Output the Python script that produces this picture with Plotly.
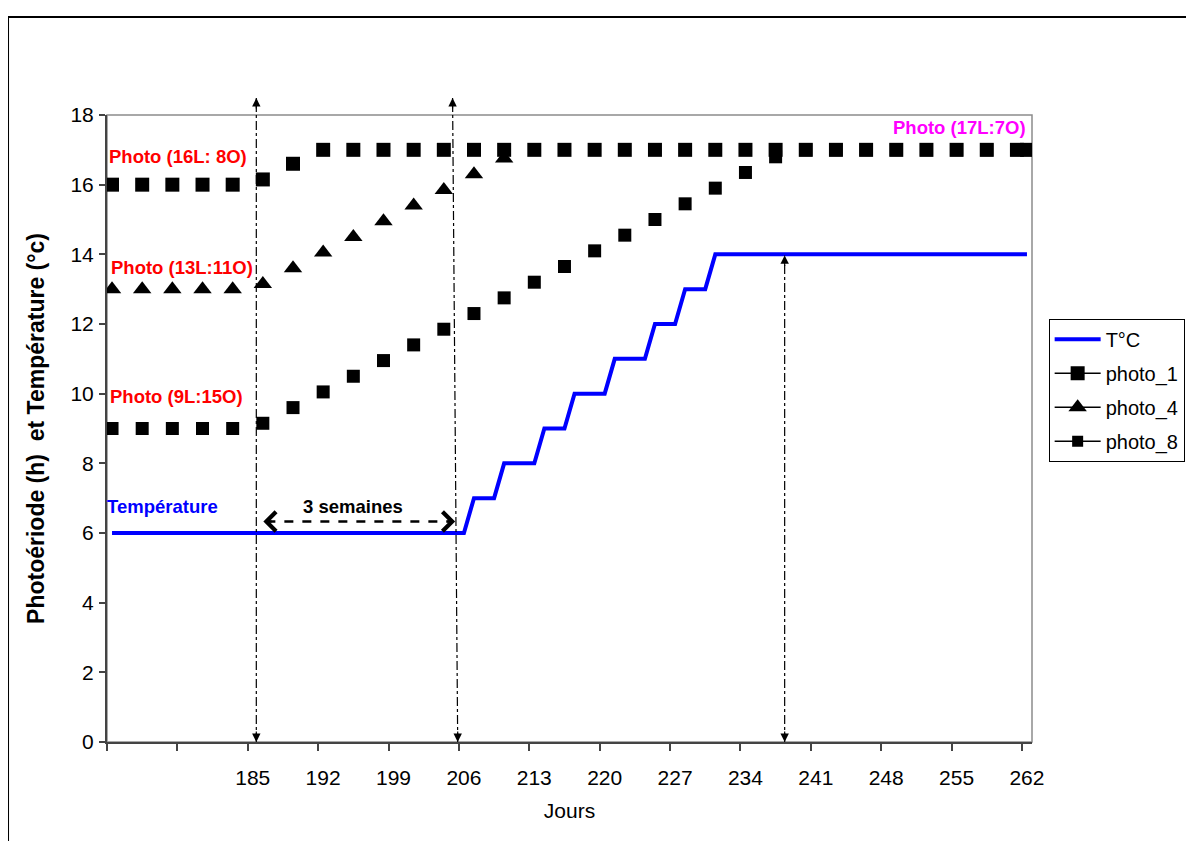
import plotly.graph_objects as go

# ---------------- data ----------------
days_photo = [171, 174, 177, 180, 183, 186, 189, 192, 195, 198, 201, 204, 207, 210, 213, 216,
              219, 222, 225, 228, 231, 234, 237, 240, 243, 246, 249, 252, 255, 258, 261, 262]
photo_1 = [16, 16, 16, 16, 16, 16.15, 16.6, 17, 17, 17, 17, 17, 17, 17, 17, 17,
           17, 17, 17, 17, 17, 17, 17, 17, 17, 17, 17, 17, 17, 17, 17, 17]
# triangles are no longer visible once they reach 17 (hidden behind photo_1)
photo_4 = [13, 13, 13, 13, 13, 13.15, 13.6, 14.05, 14.5, 14.95, 15.4, 15.85, 16.3, 16.75, None, None,
           None, None, None, None, None, None, None, None, None, None, None, None, None, None, None, None]
photo_8 = [9, 9, 9, 9, 9, 9.15, 9.6, 10.05, 10.5, 10.95, 11.4, 11.85, 12.3, 12.75, 13.2, 13.65,
           14.1, 14.55, 15.0, 15.45, 15.9, 16.35, 16.8, 17, 17, 17, 17, 17, 17, 17, 17, 17]

days_temp = [171, 206, 207, 209, 210, 213, 214, 216, 217, 220, 221, 224, 225, 227, 228, 230, 231, 262]
temp = [6, 6, 7, 7, 8, 8, 9, 9, 10, 10, 11, 11, 12, 12, 13, 13, 14, 14]

tick_days = [171, 178, 185, 192, 199, 206, 213, 220, 227, 234, 241, 248, 255, 262]
tick_text = ["", "", "185", "192", "199", "206", "213", "220", "227", "234", "241", "248", "255", "262"]

# annotation texts (label, x day, y value, colour)
labels = [
    ("Photo (16L: 8O)", 177.6, 16.82, "#FF0000"),
    ("Photo (13L:11O)", 178.0, 13.62, "#FF0000"),
    ("Photo (9L:15O)", 177.4, 9.92, "#FF0000"),
    ("Température", 176.0, 6.75, "#0000FF"),
    ("Photo (17L:7O)", 255.3, 17.63, "#FF00FF"),
    ("3 semaines", 195.0, 6.77, "#000000"),
]

# reference arrows (day positions, y in paper units)
v_lines = [  # x_bottom, y_bottom, x_top, y_top
    (185.35, 0.0, 185.35, 1.027),
    (205.38, 0.0, 204.87, 1.027),
    (237.9, 0.0, 237.9, 0.776),
]
span_arrow = (186.05, 205.13, 6.33)

FONT = "Liberation Sans, Arial, sans-serif"

fig = go.Figure()

fig.add_trace(go.Scatter(x=days_temp, y=temp, mode="lines", name="T°C",
                         line=dict(color="#0000FF", width=4), showlegend=False))
fig.add_trace(go.Scatter(x=days_photo, y=photo_8, mode="markers", name="photo_8",
                         marker=dict(symbol="square", size=13, color="black"), showlegend=False))
fig.add_trace(go.Scatter(x=days_photo, y=photo_4, mode="markers", name="photo_4",
                         marker=dict(symbol="triangle-up", size=16, color="black"), showlegend=False))
fig.add_trace(go.Scatter(x=days_photo, y=photo_1, mode="markers", name="photo_1",
                         marker=dict(symbol="square", size=14, color="black"), showlegend=False))

# legend-only entries
fig.add_trace(go.Scatter(x=[None], y=[None], mode="lines", name="T°C", legendgroup="a",
                         line=dict(color="#0000FF", width=4)))
fig.add_trace(go.Scatter(x=[None], y=[None], mode="lines+markers", name="photo_1", legendgroup="b",
                         line=dict(color="black", width=1.5),
                         marker=dict(symbol="square", size=14, color="black")))
fig.add_trace(go.Scatter(x=[None], y=[None], mode="lines+markers", name="photo_4", legendgroup="c",
                         line=dict(color="black", width=1.5),
                         marker=dict(symbol="triangle-up", size=16, color="black")))
fig.add_trace(go.Scatter(x=[None], y=[None], mode="lines+markers", name="photo_8", legendgroup="d",
                         line=dict(color="black", width=1.5),
                         marker=dict(symbol="square", size=11, color="black")))

shapes = []
annotations = []

# plot frame (grey) and outer chart border
shapes.append(dict(type="rect", xref="paper", yref="paper", x0=0, y0=0, x1=1, y1=1,
                   line=dict(color="#8c8c8c", width=1.5), layer="below"))
shapes.append(dict(type="rect", xref="paper", yref="paper", x0=-0.107, y0=-0.17, x1=1.18, y1=1.1563,
                   line=dict(color="black", width=2), layer="below"))

for xb, yb, xt, yt in v_lines:
    shapes.append(dict(type="line", xref="x", yref="paper", x0=xb, y0=yb, x1=xt, y1=yt,
                       line=dict(color="black", width=1.2, dash="dashdot"), layer="above"))
    annotations.append(dict(x=xt, y=yt, xref="x", yref="paper", text="", showarrow=True,
                            ax=0, ay=12, arrowhead=2, arrowsize=1.4, arrowwidth=1.2,
                            arrowcolor="black"))
    annotations.append(dict(x=xb, y=yb, xref="x", yref="paper", text="", showarrow=True,
                            ax=0, ay=-12, arrowhead=2, arrowsize=1.4, arrowwidth=1.2,
                            arrowcolor="black"))

x_l, x_r, y_a = span_arrow
shapes.append(dict(type="line", xref="x", yref="y", x0=x_l + 0.3, y0=y_a, x1=x_r - 0.3, y1=y_a,
                   line=dict(color="black", width=2.5, dash="dash"), layer="above"))
annotations.append(dict(x=x_l, y=y_a, xref="x", yref="y", text="", showarrow=True,
                        ax=10, ay=0, arrowhead=4, arrowsize=1.7, arrowwidth=2.2, arrowcolor="black"))
annotations.append(dict(x=x_r, y=y_a, xref="x", yref="y", text="", showarrow=True,
                        ax=-10, ay=0, arrowhead=4, arrowsize=1.7, arrowwidth=2.2, arrowcolor="black"))

for txt, xd, yv, col in labels:
    annotations.append(dict(x=xd, y=yv, xref="x", yref="y", text=f"<b>{txt}</b>", showarrow=False,
                            font=dict(family=FONT, size=18.5, color=col), xanchor="center",
                            yanchor="middle"))

fig.update_layout(
    width=1186, height=833,
    margin=dict(l=99, r=162, t=107, b=99, autoexpand=False),
    paper_bgcolor="white", plot_bgcolor="white",
    font=dict(family=FONT, size=21, color="black"),
    shapes=shapes, annotations=annotations,
    legend=dict(x=1.018, y=0.675, xanchor="left", yanchor="top",
                bordercolor="black", borderwidth=1, bgcolor="white",
                font=dict(family=FONT, size=20, color="black"),
                tracegroupgap=5, itemwidth=46),
    xaxis=dict(range=[170.5, 262.5], tickvals=[d - 0.5 for d in tick_days], ticktext=tick_text,
               ticks="outside", ticklen=7, tickwidth=1.5, tickcolor="#444",
               ticklabelshift=5, ticklabelstandoff=9, automargin=False,
               showline=True, linecolor="#444", linewidth=2, showgrid=False, zeroline=False,
               tickfont=dict(size=21),
               title=dict(text="Jours", font=dict(size=21), standoff=15)),
    yaxis=dict(range=[0, 18], tickvals=[0, 2, 4, 6, 8, 10, 12, 14, 16, 18],
               ticks="outside", ticklen=6, tickwidth=1.5, tickcolor="#444",
               ticklabelstandoff=1, automargin=False,
               showline=True, linecolor="#444", linewidth=2, showgrid=False, zeroline=False,
               tickfont=dict(size=21),
               title=dict(text="<b>Photoériode (h)\u00a0 et Température (°c)</b>",
                          font=dict(size=23), standoff=19)),
)

fig.write_html("out.html")
